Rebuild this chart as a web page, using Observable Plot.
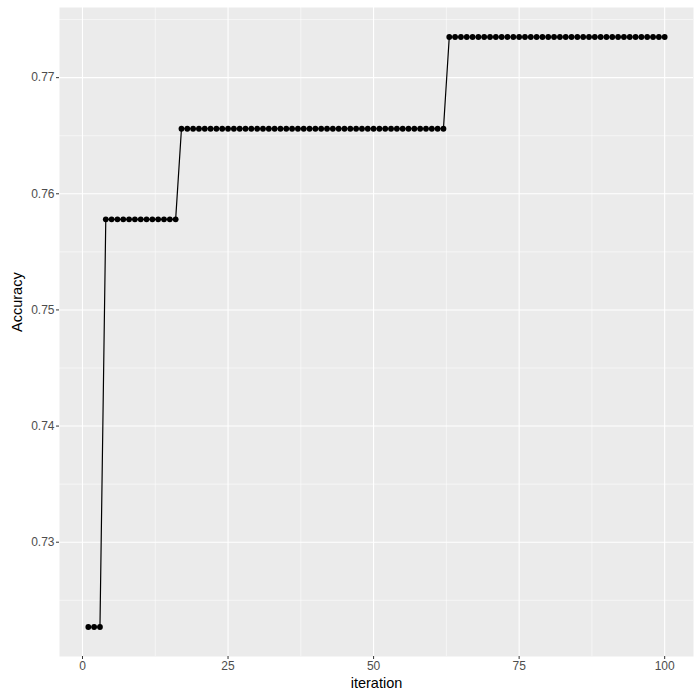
<!DOCTYPE html>
<html>
<head>
<meta charset="utf-8">
<script src="https://cdn.jsdelivr.net/npm/d3@7"></script>
<script src="https://cdn.jsdelivr.net/npm/@observablehq/plot@0.6"></script>
<style>
  html, body { margin: 0; padding: 0; background: white; }
</style>
</head>
<body>
<div id="chart"></div>
<script>
const iteration = [
  1,2,3,4,5,6,7,8,9,10,11,12,13,14,15,16,17,18,19,20,
  21,22,23,24,25,26,27,28,29,30,31,32,33,34,35,36,37,38,39,40,
  41,42,43,44,45,46,47,48,49,50,51,52,53,54,55,56,57,58,59,60,
  61,62,63,64,65,66,67,68,69,70,71,72,73,74,75,76,77,78,79,80,
  81,82,83,84,85,86,87,88,89,90,91,92,93,94,95,96,97,98,99,100
];
const accuracy = [
  0.7227,0.7227,0.7227,
  0.7578,0.7578,0.7578,0.7578,0.7578,0.7578,0.7578,0.7578,0.7578,0.7578,0.7578,0.7578,0.7578,
  0.7656,0.7656,0.7656,0.7656,0.7656,0.7656,0.7656,0.7656,0.7656,0.7656,
  0.7656,0.7656,0.7656,0.7656,0.7656,0.7656,0.7656,0.7656,0.7656,0.7656,
  0.7656,0.7656,0.7656,0.7656,0.7656,0.7656,0.7656,0.7656,0.7656,0.7656,
  0.7656,0.7656,0.7656,0.7656,0.7656,0.7656,0.7656,0.7656,0.7656,0.7656,
  0.7656,0.7656,0.7656,0.7656,0.7656,0.7656,
  0.7735,0.7735,0.7735,0.7735,0.7735,0.7735,0.7735,0.7735,0.7735,0.7735,
  0.7735,0.7735,0.7735,0.7735,0.7735,0.7735,0.7735,0.7735,0.7735,0.7735,
  0.7735,0.7735,0.7735,0.7735,0.7735,0.7735,0.7735,0.7735,0.7735,0.7735,
  0.7735,0.7735,0.7735,0.7735,0.7735,0.7735,0.7735,0.7735
];
const xMajor = [0, 25, 50, 75, 100];
const xMinor = [12.5, 37.5, 62.5, 87.5];
const yMajor = [0.73, 0.74, 0.75, 0.76, 0.77];
const yMinor = [0.725, 0.735, 0.745, 0.755, 0.765, 0.775];
const xTitle = "iteration";
const yTitle = "Accuracy";

const data = iteration.map((it, i) => ({iteration: it, accuracy: accuracy[i]}));

const xExt = d3.extent(iteration), yExt = d3.extent(accuracy);
const xPad = (xExt[1] - xExt[0]) * 0.05, yPad = (yExt[1] - yExt[0]) * 0.05;

const chart = Plot.plot({
  width: 700,
  height: 700,
  marginLeft: 59,
  marginRight: 7,
  marginTop: 7,
  marginBottom: 44,
  style: {fontFamily: "'Liberation Sans', Arial, Helvetica, sans-serif", background: "white"},
  x: {domain: [xExt[0] - xPad, xExt[1] + xPad]},
  y: {domain: [yExt[0] - yPad, yExt[1] + yPad]},
  marks: [
    Plot.frame({fill: "#EBEBEB", stroke: null}),
    Plot.ruleX(xMinor, {stroke: "white", strokeWidth: 0.55}),
    Plot.ruleY(yMinor, {stroke: "white", strokeWidth: 0.55}),
    Plot.ruleX(xMajor, {stroke: "white", strokeWidth: 1.1}),
    Plot.ruleY(yMajor, {stroke: "white", strokeWidth: 1.1}),
    Plot.line(data, {x: "iteration", y: "accuracy", stroke: "black", strokeWidth: 1.2}),
    Plot.dot(data, {x: "iteration", y: "accuracy", fill: "black", r: 2.9}),
    Plot.axisX(xMajor, {tickSize: 3, tickPadding: 2, stroke: "#333333", fill: "#4D4D4D", fontSize: 12, label: null, tickFormat: d => String(d)}),
    Plot.axisY(yMajor, {tickSize: 3, tickPadding: 2, stroke: "#333333", fill: "#4D4D4D", fontSize: 12, label: null, tickFormat: d => d.toFixed(2)}),
    Plot.text([xTitle], {frameAnchor: "bottom", dy: 31, fontSize: 14.5, fill: "black", text: d => d}),
    Plot.text([yTitle], {frameAnchor: "left", dx: -42, rotate: -90, fontSize: 14.5, fill: "black", text: d => d})
  ]
});
document.getElementById("chart").appendChild(chart);
</script>
</body>
</html>
